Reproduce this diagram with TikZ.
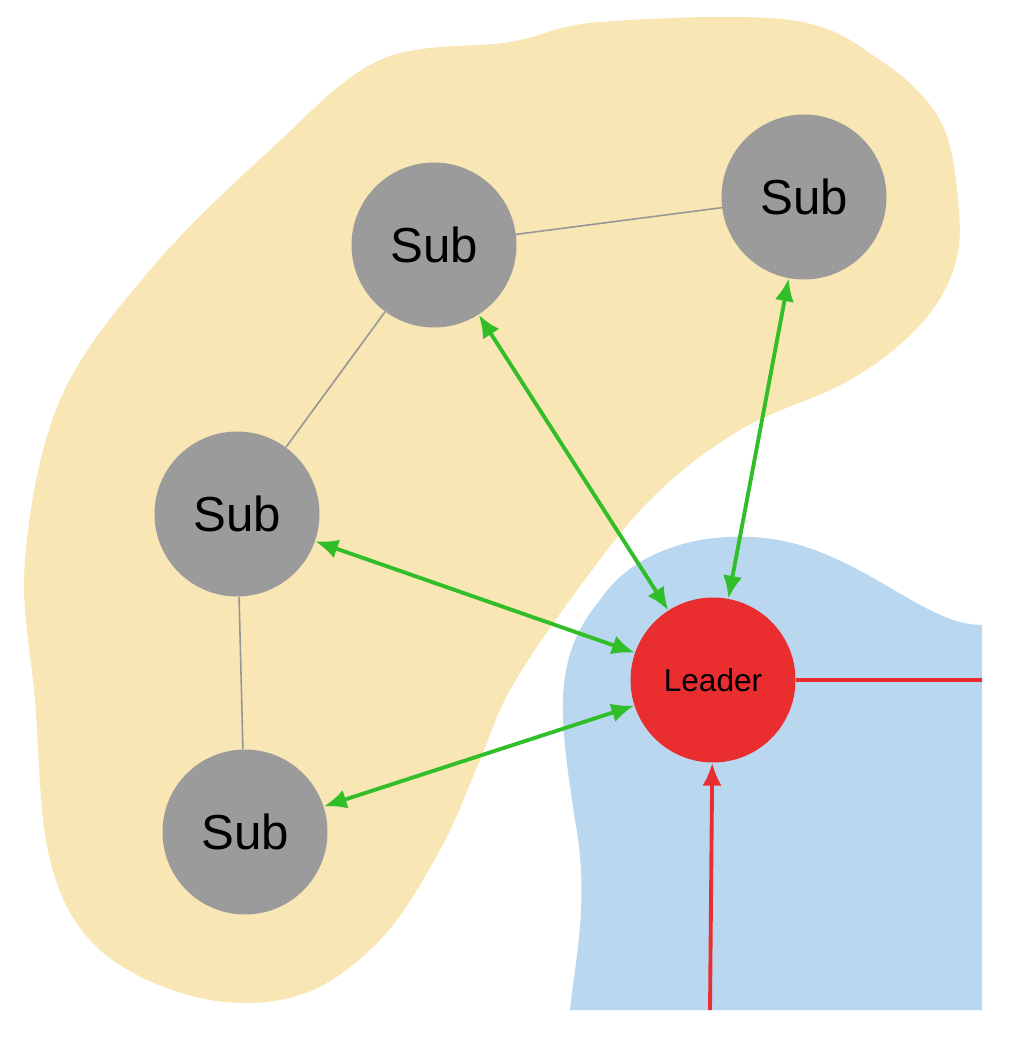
\documentclass[tikz,border=0pt]{standalone}
\usepackage{fontspec}
\setmainfont{Liberation Sans}
\usetikzlibrary{arrows.meta}
\definecolor{cyel}{RGB}{248,230,181}
\definecolor{cblue}{RGB}{186,215,240}
\definecolor{cgray}{RGB}{155,155,155}
\definecolor{cline}{RGB}{150,150,150}
\definecolor{cred}{RGB}{234,46,48}
\definecolor{cgreen}{RGB}{50,190,40}
\begin{document}
\begin{tikzpicture}[x=0.02cm,y=-0.02cm,
  sub/.style={circle,fill=cgray,minimum size=3.3cm,inner sep=0pt,font=\fontsize{28}{32}\selectfont},
  lead/.style={circle,fill=cred,minimum size=3.3cm,inner sep=0pt,font=\fontsize{18}{21}\selectfont},
  gl/.style={draw=cline,line width=0.9pt},
  ga/.style={draw=cgreen,line width=2.2pt,{Latex[length=13pt,width=11pt]}-{Latex[length=13pt,width=11pt]}},
  ra/.style={draw=cred,line width=2.2pt}]
\useasboundingbox (0,0) rectangle (1009,1037);
\fill[cyel] plot[smooth cycle,tension=0.6] coordinates{(510,42)(600,22)(790,20)(880,60)(940,120)(958,200)(955,265)(920,325)(850,380)(740,430)(650,500)(570,600)(510,690)(480,760)(440,850)(380,940)(300,995)(200,998)(100,950)(50,860)(35,700)(25,560)(60,400)(150,270)(270,150)(380,60)};
\fill[cblue] (982,1010) -- (982,625) .. controls (930,625) and (880,570) .. (800,545) .. controls (730,525) and (640,540) .. (600,600) .. controls (550,660) and (560,720) .. (575,820) .. controls (590,900) and (575,960) .. (570,1010) -- cycle;
\node[sub] (s1) at (434,245) {Sub};
\node[sub] (s2) at (804,197) {Sub};
\node[sub] (s3) at (237,514) {Sub};
\node[sub] (s4) at (245,832) {Sub};
\node[lead] (L) at (713,680) {Leader};
\coordinate (re) at (982,680);
\coordinate (rb) at (710,1010);
\draw[gl] (s1)--(s2); \draw[gl] (s1)--(s3); \draw[gl] (s3)--(s4);
\draw[ga] (L)--(s1); \draw[ga] (L)--(s2); \draw[ga] (L)--(s3); \draw[ga] (L)--(s4);
\draw[ra] (L)--(re);
\draw[ra,-{Latex[length=13pt,width=11pt]}] (rb)--(L);
\end{tikzpicture}
\end{document}
